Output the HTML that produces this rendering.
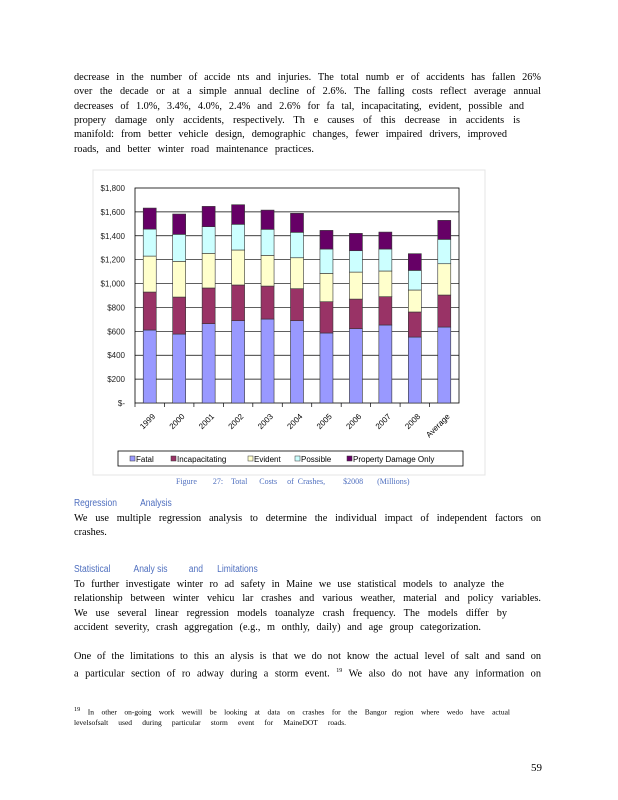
<!DOCTYPE html>
<html><head><meta charset="utf-8">
<style>
body{margin:0;width:618px;height:800px;background:#fff;position:relative;overflow:hidden;font-family:"Liberation Serif",serif;}
.l{position:absolute;left:74px;font-size:10.3px;line-height:12px;white-space:nowrap;text-align:justify;text-align-last:justify;color:#000;}
.h{position:absolute;left:74px;font-family:"Liberation Sans",sans-serif;font-size:10px;color:#4f6fbf;transform:scaleX(0.85);transform-origin:left;white-space:pre;}
.f{position:absolute;left:74px;font-size:7.5px;white-space:nowrap;text-align:justify;text-align-last:justify;}
</style></head><body>
<div>
<div class="l" style="top:72px;width:467px">decrease in the number of accide nts and injuries. The total numb er of accidents has fallen 26%</div>
<div class="l" style="top:86px;width:467px">over the decade or at a simple annual decline of 2.6%. The falling costs reflect average annual</div>
<div class="l" style="top:101px;width:450px">decreases of 1.0%, 3.4%, 4.0%, 2.4% and 2.6% for fa tal, incapacitating, evident, possible and</div>
<div class="l" style="top:115px;width:446px">propery damage only accidents, respectively. Th e causes of this decrease in accidents is</div>
<div class="l" style="top:129px;width:433px">manifold: from better vehicle design, demographic changes, fewer impaired drivers, improved</div>
<div class="l" style="top:144px;width:240px">roads, and better winter road maintenance practices.</div>
</div>

<svg style="position:absolute;left:0;top:0" width="618" height="800" id="chart">
<rect x="93" y="170" width="392" height="305" fill="none" stroke="#e4e4e4"/>
</svg>

<div class="h" style="top:498px">Regression          Analysis</div>
<div class="l" style="top:513px;width:467px">We use multiple regression analysis to determine the individual impact of independent factors on</div>
<div class="l" style="top:527px;text-align-last:left">crashes.</div>

<div class="h" style="top:564px">Statistical          Analy sis         and      Limitations</div>
<div>
<div class="l" style="top:579px;width:430px">To further investigate winter ro ad safety in Maine we use statistical models to analyze the</div>
<div class="l" style="top:593px;width:467px">relationship between winter vehicu lar crashes and various weather, material and policy variables.</div>
<div class="l" style="top:608px;width:433px">We use several linear regression models toanalyze crash frequency. The models differ by</div>
<div class="l" style="top:622px;width:407px">accident severity, crash aggregation (e.g., m onthly, daily) and age group categorization.</div>
<div class="l" style="top:651px;width:467px">One of the limitations to this an alysis is that we do not know the actual level of salt and sand on</div>
<div class="l" style="top:665px;width:467px">a particular section of ro adway during a storm event. <sup style="font-size:6px">19</sup> We also do not have any information on</div>
</div>
<div>
<div class="f" style="top:706px;width:436px"><sup>19</sup> In other on-going work wewill be looking at data on crashes for the Bangor region where wedo have actual</div>
<div class="f" style="top:718px;width:272px">levelsofsalt used during particular storm event for MaineDOT roads.</div>
</div>
<div style="position:absolute;left:531px;top:762px;font-size:11px">59</div>

<script>
const categories=["1999","2000","2001","2002","2003","2004","2005","2006","2007","2008","Average"];
const seriesNames=["Fatal","Incapacitating","Evident","Possible","Property Damage Only"];
const fatal=[611,577,664,689,703,689,586,622,653,552,636];
const incapacitating=[318,310,299,299,276,268,262,248,237,210,268];
const evident=[301,299,290,293,257,259,237,226,215,184,262];
const possible=[226,226,223,215,218,213,204,179,184,164,204];
const pdo=[176,170,170,164,161,159,156,145,142,140,159];
const tickValues=[0,200,400,600,800,1000,1200,1400,1600,1800];
const tickLabels=["$-","$200","$400","$600","$800","$1,000","$1,200","$1,400","$1,600","$1,800"];

const svg=document.getElementById('chart');
const NS='http://www.w3.org/2000/svg';
const X0=135,X1=459,Y0=403,Y1=188,MAX=1800;
const y=v=>Y0-(v/MAX)*(Y0-Y1);
const slot=(X1-X0)/categories.length;
const xc=i=>X0+slot*(i+0.5);
function mk(t,a){const e=document.createElementNS(NS,t);for(const k in a)e.setAttribute(k,a[k]);svg.appendChild(e);return e;}
const pa=mk('rect',{x:X0,y:Y1,width:X1-X0,height:Y0-Y1,fill:'#fff',stroke:'#000','stroke-width':0.8});


tickValues.forEach((v,i)=>{
  if(v>0&&v<MAX){const g=mk('line',{x1:X0,x2:X1,y1:y(v),y2:y(v),stroke:'#000','stroke-width':0.7});
  
  }
  const t=mk('text',{x:X0-10,y:y(v)+3,'text-anchor':'end','font-size':8,'font-family':'Liberation Sans, sans-serif',fill:'#222'});
  t.textContent=tickLabels[i];
  
  
});
const colors=['#9999ff','#993366','#ffffcc','#ccffff','#660066'];
const series=[fatal,incapacitating,evident,possible,pdo];
categories.forEach((c,i)=>{
  let acc=0;
  series.forEach((s,k)=>{
    const r=mk('rect',{x:xc(i)-6.5,y:y(acc+s[i]),width:13,height:y(acc)-y(acc+s[i]),fill:colors[k],stroke:'#333','stroke-width':0.6});
    
    
    acc+=s[i];
  });
  const tk=mk('line',{x1:X0+slot*i,x2:X0+slot*i,y1:Y0,y2:Y0+4,stroke:'#000','stroke-width':0.7});
  
  
  const t=mk('text',{x:xc(i)+6,y:Y0+14,'text-anchor':'end','font-size':8,'font-family':'Liberation Sans, sans-serif',transform:`rotate(-45 ${xc(i)+6} ${Y0+14})`});
  t.textContent=c;
  
  
});
const lg=mk('rect',{x:118,y:451,width:345,height:15,fill:'#fff',stroke:'#000','stroke-width':0.8});


const lx=[130,171,248,295,347];
seriesNames.forEach((n,k)=>{
  const s=mk('rect',{x:lx[k],y:456,width:5,height:5,fill:colors[k],stroke:'#333','stroke-width':0.5});
  
  
  const t=mk('text',{x:lx[k]+6,y:462,'font-size':8,'font-family':'Liberation Sans, sans-serif'});
  t.textContent=n;
  
  
});
const cap=mk('text',{x:176,y:484,'font-size':8,'font-family':'Liberation Serif, serif',fill:'#4f6fbf',style:'white-space:pre'});
cap.textContent='Figure        27:    Total      Costs     of  Crashes,         $2008       (Millions)';


</script>
</body></html>
